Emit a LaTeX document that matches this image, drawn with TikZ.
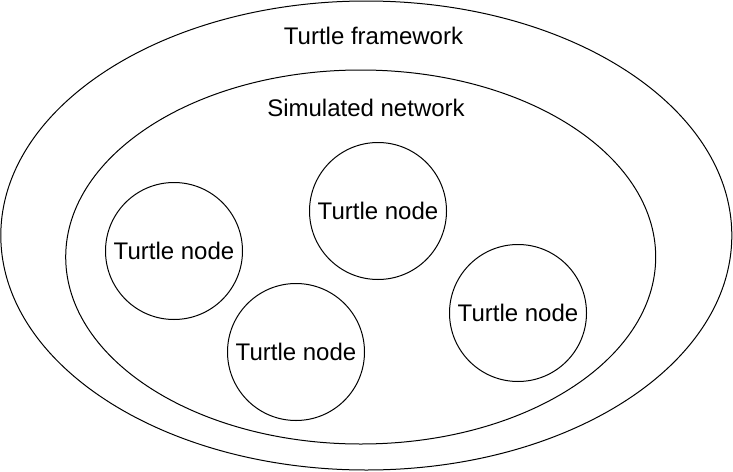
\documentclass[tikz,border=0pt]{standalone}
\usepackage{fontspec}
\setmainfont{Liberation Sans}
\usetikzlibrary{shapes.geometric}

\tikzset{
  turtle/.style={circle,draw,line width=1pt,minimum size=137pt,inner sep=0pt},
  zone/.style={ellipse,draw,line width=1pt,inner sep=0pt}
}

\begin{document}
\begin{tikzpicture}[x=1pt,y=-1pt,font=\fontsize{24}{28}\selectfont]
                    \useasboundingbox (0,0) rectangle (733,471);
                    \path
                    (366.3,235.5) node[zone,minimum width=731pt,minimum height=469pt](framework) {}
                    (360.7,257) node[zone,minimum width=590pt,minimum height=374pt](network) {}
                    (373.5,36) node(frameworklabel) {Turtle framework}
                    (366,108) node(networklabel) {Simulated network}
                    (174,251) node[turtle](node1) {Turtle node}
                    (378,211) node[turtle](node2) {Turtle node}
                    (296,352) node[turtle](node3) {Turtle node}
                    (518,313) node[turtle](node4) {Turtle node};
                \end{tikzpicture}
\end{document}
